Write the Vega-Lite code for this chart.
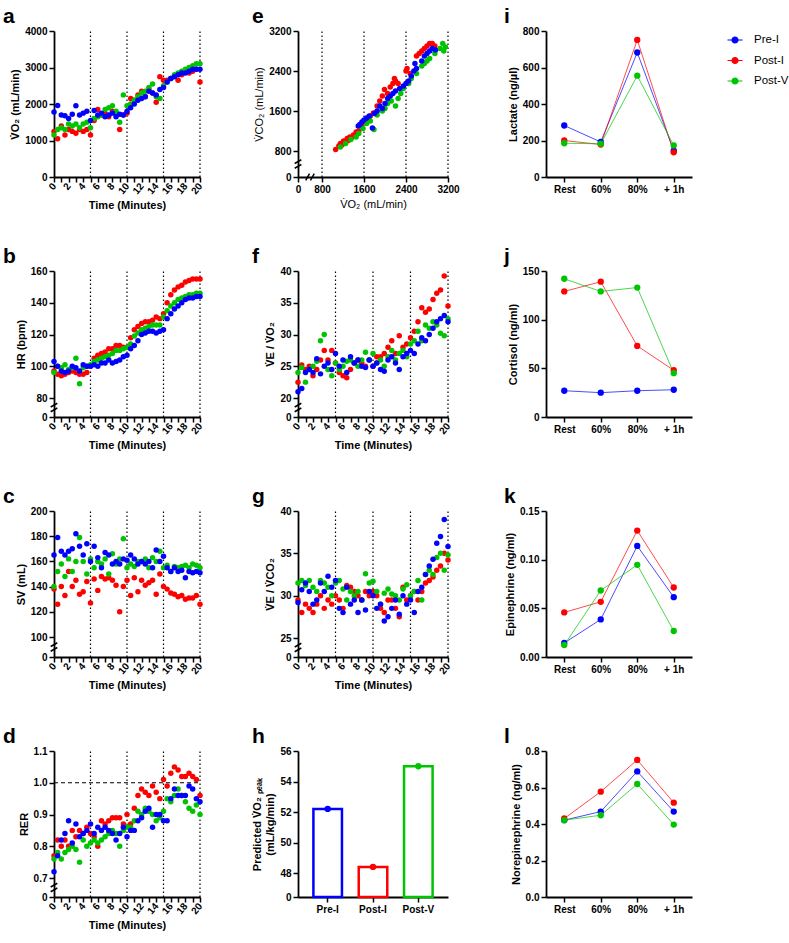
{
"$schema":"https://vega.github.io/schema/vega-lite/v6.json",
"background":"white",
"padding":{"left":3,"top":6,"right":0,"bottom":0},
"datasets":{
"a":[{"t":0,"Pre-I":1780,"Post-I":1250,"Post-V":1150},{"t":0.5,"Pre-I":1960,"Post-I":1050,"Post-V":1300},{"t":1,"Pre-I":1700,"Post-I":1400,"Post-V":1350},{"t":1.5,"Pre-I":1680,"Post-I":1150,"Post-V":1300},{"t":2,"Pre-I":1600,"Post-I":1300,"Post-V":1450},{"t":2.5,"Pre-I":1720,"Post-I":1250,"Post-V":1400},{"t":3,"Pre-I":1950,"Post-I":1200,"Post-V":1450},{"t":3.5,"Pre-I":1700,"Post-I":1300,"Post-V":1350},{"t":4,"Pre-I":1750,"Post-I":1250,"Post-V":1450},{"t":4.5,"Pre-I":1800,"Post-I":1300,"Post-V":1500},{"t":5,"Pre-I":1550,"Post-I":1150,"Post-V":1350},{"t":5.5,"Pre-I":1820,"Post-I":1550,"Post-V":1600},{"t":6,"Pre-I":1700,"Post-I":1850,"Post-V":1650},{"t":6.5,"Pre-I":1750,"Post-I":1700,"Post-V":1700},{"t":7,"Pre-I":1650,"Post-I":1750,"Post-V":1850},{"t":7.5,"Pre-I":1700,"Post-I":1650,"Post-V":1900},{"t":8,"Pre-I":1750,"Post-I":1800,"Post-V":1950},{"t":8.5,"Pre-I":1650,"Post-I":1750,"Post-V":1800},{"t":9,"Pre-I":1720,"Post-I":1300,"Post-V":1500},{"t":9.5,"Pre-I":1700,"Post-I":1700,"Post-V":2250},{"t":10,"Pre-I":1800,"Post-I":1750,"Post-V":1950},{"t":10.5,"Pre-I":1900,"Post-I":2150,"Post-V":2000},{"t":11,"Pre-I":2000,"Post-I":2100,"Post-V":2100},{"t":11.5,"Pre-I":2100,"Post-I":2250,"Post-V":2200},{"t":12,"Pre-I":2150,"Post-I":2350,"Post-V":2300},{"t":12.5,"Pre-I":2200,"Post-I":2200,"Post-V":2350},{"t":13,"Pre-I":2350,"Post-I":2400,"Post-V":2450},{"t":13.5,"Pre-I":2300,"Post-I":2300,"Post-V":2550},{"t":14,"Pre-I":2250,"Post-I":2050,"Post-V":2200},{"t":14.5,"Pre-I":2400,"Post-I":2750,"Post-V":2150},{"t":15,"Pre-I":2450,"Post-I":2650,"Post-V":2500},{"t":15.5,"Pre-I":2600,"Post-I":2650,"Post-V":2600},{"t":16,"Pre-I":2700,"Post-I":2700,"Post-V":2700},{"t":16.5,"Pre-I":2750,"Post-I":2750,"Post-V":2800},{"t":17,"Pre-I":2800,"Post-I":2650,"Post-V":2850},{"t":17.5,"Pre-I":2850,"Post-I":2800,"Post-V":2900},{"t":18,"Pre-I":2850,"Post-I":2900,"Post-V":2950},{"t":18.5,"Pre-I":2900,"Post-I":2850,"Post-V":3000},{"t":19,"Pre-I":2950,"Post-I":2900,"Post-V":3050},{"t":19.5,"Pre-I":2950,"Post-I":2950,"Post-V":3100},{"t":20,"Pre-I":2950,"Post-I":2600,"Post-V":3100}],
"b":[{"t":0,"Pre-I":103,"Post-I":97,"Post-V":96},{"t":0.5,"Pre-I":100,"Post-I":95,"Post-V":100},{"t":1,"Pre-I":97,"Post-I":94,"Post-V":99},{"t":1.5,"Pre-I":96,"Post-I":95,"Post-V":101},{"t":2,"Pre-I":97,"Post-I":96,"Post-V":98},{"t":2.5,"Pre-I":100,"Post-I":97,"Post-V":99},{"t":3,"Pre-I":99,"Post-I":96,"Post-V":105},{"t":3.5,"Pre-I":97,"Post-I":95,"Post-V":89},{"t":4,"Pre-I":101,"Post-I":95,"Post-V":99},{"t":4.5,"Pre-I":100,"Post-I":96,"Post-V":100},{"t":5,"Pre-I":100,"Post-I":100,"Post-V":101},{"t":5.5,"Pre-I":101,"Post-I":105,"Post-V":103},{"t":6,"Pre-I":100,"Post-I":107,"Post-V":104},{"t":6.5,"Pre-I":102,"Post-I":108,"Post-V":105},{"t":7,"Pre-I":102,"Post-I":109,"Post-V":106},{"t":7.5,"Pre-I":104,"Post-I":111,"Post-V":107},{"t":8,"Pre-I":102,"Post-I":111,"Post-V":108},{"t":8.5,"Pre-I":103,"Post-I":113,"Post-V":110},{"t":9,"Pre-I":104,"Post-I":113,"Post-V":110},{"t":9.5,"Pre-I":106,"Post-I":112,"Post-V":111},{"t":10,"Pre-I":107,"Post-I":112,"Post-V":112},{"t":10.5,"Pre-I":111,"Post-I":118,"Post-V":114},{"t":11,"Pre-I":113,"Post-I":123,"Post-V":119},{"t":11.5,"Pre-I":116,"Post-I":125,"Post-V":121},{"t":12,"Pre-I":120,"Post-I":127,"Post-V":123},{"t":12.5,"Pre-I":121,"Post-I":128,"Post-V":124},{"t":13,"Pre-I":122,"Post-I":128,"Post-V":125},{"t":13.5,"Pre-I":122,"Post-I":129,"Post-V":126},{"t":14,"Pre-I":121,"Post-I":131,"Post-V":126},{"t":14.5,"Pre-I":122,"Post-I":130,"Post-V":126},{"t":15,"Pre-I":123,"Post-I":133,"Post-V":131},{"t":15.5,"Pre-I":130,"Post-I":140,"Post-V":135},{"t":16,"Pre-I":133,"Post-I":145,"Post-V":138},{"t":16.5,"Pre-I":136,"Post-I":148,"Post-V":140},{"t":17,"Pre-I":138,"Post-I":150,"Post-V":142},{"t":17.5,"Pre-I":140,"Post-I":151,"Post-V":143},{"t":18,"Pre-I":142,"Post-I":153,"Post-V":144},{"t":18.5,"Pre-I":143,"Post-I":154,"Post-V":145},{"t":19,"Pre-I":143,"Post-I":155,"Post-V":145},{"t":19.5,"Pre-I":144,"Post-I":155,"Post-V":146},{"t":20,"Pre-I":144,"Post-I":155,"Post-V":146}],
"c":[{"t":0,"Pre-I":165,"Post-I":138,"Post-V":140},{"t":0.5,"Pre-I":179,"Post-I":126,"Post-V":152},{"t":1,"Pre-I":168,"Post-I":140,"Post-V":158},{"t":1.5,"Pre-I":165,"Post-I":133,"Post-V":148},{"t":2,"Pre-I":168,"Post-I":152,"Post-V":162},{"t":2.5,"Pre-I":170,"Post-I":140,"Post-V":152},{"t":3,"Pre-I":182,"Post-I":145,"Post-V":160},{"t":3.5,"Pre-I":172,"Post-I":134,"Post-V":179},{"t":4,"Pre-I":165,"Post-I":136,"Post-V":160},{"t":4.5,"Pre-I":174,"Post-I":144,"Post-V":150},{"t":5,"Pre-I":160,"Post-I":127,"Post-V":162},{"t":5.5,"Pre-I":172,"Post-I":146,"Post-V":155},{"t":6,"Pre-I":163,"Post-I":137,"Post-V":160},{"t":6.5,"Pre-I":155,"Post-I":148,"Post-V":158},{"t":7,"Pre-I":167,"Post-I":146,"Post-V":162},{"t":7.5,"Pre-I":165,"Post-I":147,"Post-V":150},{"t":8,"Pre-I":158,"Post-I":145,"Post-V":166},{"t":8.5,"Pre-I":160,"Post-I":141,"Post-V":158},{"t":9,"Pre-I":158,"Post-I":120,"Post-V":162},{"t":9.5,"Pre-I":162,"Post-I":140,"Post-V":178},{"t":10,"Pre-I":161,"Post-I":145,"Post-V":155},{"t":10.5,"Pre-I":165,"Post-I":133,"Post-V":158},{"t":11,"Pre-I":162,"Post-I":147,"Post-V":156},{"t":11.5,"Pre-I":158,"Post-I":136,"Post-V":160},{"t":12,"Pre-I":160,"Post-I":145,"Post-V":160},{"t":12.5,"Pre-I":158,"Post-I":141,"Post-V":162},{"t":13,"Pre-I":160,"Post-I":143,"Post-V":155},{"t":13.5,"Pre-I":155,"Post-I":145,"Post-V":163},{"t":14,"Pre-I":169,"Post-I":134,"Post-V":160},{"t":14.5,"Pre-I":160,"Post-I":150,"Post-V":168},{"t":15,"Pre-I":164,"Post-I":140,"Post-V":155},{"t":15.5,"Pre-I":155,"Post-I":138,"Post-V":157},{"t":16,"Pre-I":152,"Post-I":135,"Post-V":152},{"t":16.5,"Pre-I":155,"Post-I":134,"Post-V":156},{"t":17,"Pre-I":152,"Post-I":132,"Post-V":155},{"t":17.5,"Pre-I":153,"Post-I":133,"Post-V":156},{"t":18,"Pre-I":147,"Post-I":130,"Post-V":157},{"t":18.5,"Pre-I":152,"Post-I":131,"Post-V":155},{"t":19,"Pre-I":151,"Post-I":131,"Post-V":158},{"t":19.5,"Pre-I":152,"Post-I":133,"Post-V":157},{"t":20,"Pre-I":151,"Post-I":126,"Post-V":155}],
"d":[{"t":0,"Pre-I":0.72,"Post-I":0.77,"Post-V":0.76},{"t":0.5,"Pre-I":0.77,"Post-I":0.82,"Post-V":0.78},{"t":1,"Pre-I":0.82,"Post-I":0.80,"Post-V":0.76},{"t":1.5,"Pre-I":0.84,"Post-I":0.82,"Post-V":0.78},{"t":2,"Pre-I":0.88,"Post-I":0.80,"Post-V":0.79},{"t":2.5,"Pre-I":0.81,"Post-I":0.85,"Post-V":0.80},{"t":3,"Pre-I":0.87,"Post-I":0.83,"Post-V":0.79},{"t":3.5,"Pre-I":0.83,"Post-I":0.85,"Post-V":0.75},{"t":4,"Pre-I":0.84,"Post-I":0.84,"Post-V":0.82},{"t":4.5,"Pre-I":0.85,"Post-I":0.86,"Post-V":0.80},{"t":5,"Pre-I":0.87,"Post-I":0.84,"Post-V":0.81},{"t":5.5,"Pre-I":0.84,"Post-I":0.83,"Post-V":0.82},{"t":6,"Pre-I":0.86,"Post-I":0.80,"Post-V":0.81},{"t":6.5,"Pre-I":0.85,"Post-I":0.88,"Post-V":0.82},{"t":7,"Pre-I":0.86,"Post-I":0.87,"Post-V":0.83},{"t":7.5,"Pre-I":0.85,"Post-I":0.88,"Post-V":0.84},{"t":8,"Pre-I":0.84,"Post-I":0.89,"Post-V":0.85},{"t":8.5,"Pre-I":0.82,"Post-I":0.89,"Post-V":0.84},{"t":9,"Pre-I":0.84,"Post-I":0.89,"Post-V":0.80},{"t":9.5,"Pre-I":0.86,"Post-I":0.87,"Post-V":0.85},{"t":10,"Pre-I":0.83,"Post-I":0.90,"Post-V":0.86},{"t":10.5,"Pre-I":0.85,"Post-I":0.87,"Post-V":0.86},{"t":11,"Pre-I":0.85,"Post-I":0.92,"Post-V":0.88},{"t":11.5,"Pre-I":0.88,"Post-I":0.96,"Post-V":0.91},{"t":12,"Pre-I":0.89,"Post-I":0.98,"Post-V":0.90},{"t":12.5,"Pre-I":0.91,"Post-I":0.97,"Post-V":0.92},{"t":13,"Pre-I":0.92,"Post-I":0.96,"Post-V":0.91},{"t":13.5,"Pre-I":0.86,"Post-I":0.99,"Post-V":0.90},{"t":14,"Pre-I":0.90,"Post-I":0.97,"Post-V":0.88},{"t":14.5,"Pre-I":0.90,"Post-I":0.95,"Post-V":0.89},{"t":15,"Pre-I":0.88,"Post-I":1.01,"Post-V":0.91},{"t":15.5,"Pre-I":0.88,"Post-I":0.99,"Post-V":0.95},{"t":16,"Pre-I":0.95,"Post-I":1.03,"Post-V":0.94},{"t":16.5,"Pre-I":0.98,"Post-I":1.05,"Post-V":0.96},{"t":17,"Pre-I":0.96,"Post-I":1.04,"Post-V":0.98},{"t":17.5,"Pre-I":0.96,"Post-I":1.02,"Post-V":0.96},{"t":18,"Pre-I":0.96,"Post-I":1.02,"Post-V":0.94},{"t":18.5,"Pre-I":0.99,"Post-I":1.03,"Post-V":0.92},{"t":19,"Pre-I":0.98,"Post-I":1.02,"Post-V":0.91},{"t":19.5,"Pre-I":0.95,"Post-I":1.01,"Post-V":0.93},{"t":20,"Pre-I":0.94,"Post-I":0.96,"Post-V":0.90}],
"f":[{"t":0,"Pre-I":21.0,"Post-I":22.5,"Post-V":24.0},{"t":0.5,"Pre-I":21.5,"Post-I":25.2,"Post-V":24.8},{"t":1,"Pre-I":24.0,"Post-I":24.5,"Post-V":22.5},{"t":1.5,"Pre-I":24.5,"Post-I":25.0,"Post-V":24.5},{"t":2,"Pre-I":24.0,"Post-I":23.5,"Post-V":25.0},{"t":2.5,"Pre-I":26.2,"Post-I":24.5,"Post-V":25.8},{"t":3,"Pre-I":23.8,"Post-I":26.0,"Post-V":29.0},{"t":3.5,"Pre-I":25.0,"Post-I":27.5,"Post-V":30.0},{"t":4,"Pre-I":25.5,"Post-I":26.0,"Post-V":24.5},{"t":4.5,"Pre-I":24.5,"Post-I":27.5,"Post-V":23.5},{"t":5,"Pre-I":27.0,"Post-I":25.5,"Post-V":25.5},{"t":5.5,"Pre-I":25.0,"Post-I":24.0,"Post-V":24.5},{"t":6,"Pre-I":26.0,"Post-I":23.5,"Post-V":25.0},{"t":6.5,"Pre-I":24.0,"Post-I":23.2,"Post-V":25.8},{"t":7,"Pre-I":26.5,"Post-I":24.5,"Post-V":26.0},{"t":7.5,"Pre-I":25.5,"Post-I":25.5,"Post-V":25.5},{"t":8,"Pre-I":26.0,"Post-I":26.0,"Post-V":25.0},{"t":8.5,"Pre-I":25.0,"Post-I":25.5,"Post-V":26.0},{"t":9,"Pre-I":24.8,"Post-I":25.0,"Post-V":27.2},{"t":9.5,"Pre-I":26.0,"Post-I":26.0,"Post-V":26.0},{"t":10,"Pre-I":25.0,"Post-I":25.0,"Post-V":27.0},{"t":10.5,"Pre-I":25.5,"Post-I":26.5,"Post-V":25.5},{"t":11,"Pre-I":24.5,"Post-I":26.5,"Post-V":26.0},{"t":11.5,"Pre-I":24.2,"Post-I":27.0,"Post-V":25.0},{"t":12,"Pre-I":26.0,"Post-I":28.0,"Post-V":26.5},{"t":12.5,"Pre-I":26.5,"Post-I":29.0,"Post-V":27.5},{"t":13,"Pre-I":25.5,"Post-I":27.0,"Post-V":26.0},{"t":13.5,"Pre-I":24.5,"Post-I":29.8,"Post-V":27.0},{"t":14,"Pre-I":26.5,"Post-I":28.0,"Post-V":27.5},{"t":14.5,"Pre-I":27.0,"Post-I":28.5,"Post-V":26.5},{"t":15,"Pre-I":27.5,"Post-I":29.5,"Post-V":28.5},{"t":15.5,"Pre-I":27.0,"Post-I":30.5,"Post-V":29.0},{"t":16,"Pre-I":28.5,"Post-I":32.0,"Post-V":30.5},{"t":16.5,"Pre-I":29.5,"Post-I":34.2,"Post-V":29.0},{"t":17,"Pre-I":29.0,"Post-I":33.5,"Post-V":31.5},{"t":17.5,"Pre-I":30.0,"Post-I":34.0,"Post-V":31.0},{"t":18,"Pre-I":31.0,"Post-I":35.5,"Post-V":32.0},{"t":18.5,"Pre-I":32.0,"Post-I":36.5,"Post-V":31.5},{"t":19,"Pre-I":32.5,"Post-I":37.0,"Post-V":30.2},{"t":19.5,"Pre-I":33.0,"Post-I":39.2,"Post-V":29.8},{"t":20,"Pre-I":32.0,"Post-I":34.5,"Post-V":32.5}],
"g":[{"t":0,"Pre-I":29.2,"Post-I":29.5,"Post-V":31.5},{"t":0.5,"Pre-I":30.7,"Post-I":28.0,"Post-V":31.8},{"t":1,"Pre-I":31.5,"Post-I":29.0,"Post-V":31.2},{"t":1.5,"Pre-I":30.5,"Post-I":28.5,"Post-V":31.8},{"t":2,"Pre-I":29.0,"Post-I":28.0,"Post-V":31.0},{"t":2.5,"Pre-I":29.5,"Post-I":29.0,"Post-V":30.5},{"t":3,"Pre-I":31.5,"Post-I":30.0,"Post-V":31.8},{"t":3.5,"Pre-I":30.5,"Post-I":28.5,"Post-V":31.5},{"t":4,"Pre-I":32.3,"Post-I":29.5,"Post-V":31.0},{"t":4.5,"Pre-I":31.0,"Post-I":29.0,"Post-V":30.0},{"t":5,"Pre-I":31.8,"Post-I":30.0,"Post-V":31.5},{"t":5.5,"Pre-I":28.5,"Post-I":29.5,"Post-V":31.8},{"t":6,"Pre-I":28.0,"Post-I":28.5,"Post-V":30.8},{"t":6.5,"Pre-I":31.0,"Post-I":31.2,"Post-V":29.5},{"t":7,"Pre-I":29.0,"Post-I":31.0,"Post-V":30.5},{"t":7.5,"Pre-I":29.5,"Post-I":30.5,"Post-V":30.0},{"t":8,"Pre-I":28.0,"Post-I":30.0,"Post-V":30.5},{"t":8.5,"Pre-I":29.5,"Post-I":29.5,"Post-V":29.5},{"t":9,"Pre-I":28.3,"Post-I":30.5,"Post-V":32.6},{"t":9.5,"Pre-I":30.5,"Post-I":30.0,"Post-V":31.5},{"t":10,"Pre-I":30.0,"Post-I":30.5,"Post-V":31.7},{"t":10.5,"Pre-I":28.5,"Post-I":30.0,"Post-V":30.5},{"t":11,"Pre-I":29.0,"Post-I":28.5,"Post-V":29.0},{"t":11.5,"Pre-I":27.0,"Post-I":28.0,"Post-V":30.3},{"t":12,"Pre-I":27.5,"Post-I":29.5,"Post-V":30.8},{"t":12.5,"Pre-I":28.5,"Post-I":29.5,"Post-V":30.2},{"t":13,"Pre-I":29.5,"Post-I":28.5,"Post-V":30.0},{"t":13.5,"Pre-I":27.8,"Post-I":27.5,"Post-V":29.5},{"t":14,"Pre-I":30.0,"Post-I":31.0,"Post-V":30.8},{"t":14.5,"Pre-I":29.0,"Post-I":29.5,"Post-V":31.3},{"t":15,"Pre-I":29.5,"Post-I":30.0,"Post-V":30.0},{"t":15.5,"Pre-I":28.0,"Post-I":30.5,"Post-V":30.5},{"t":16,"Pre-I":30.5,"Post-I":29.5,"Post-V":31.8},{"t":16.5,"Pre-I":31.0,"Post-I":30.5,"Post-V":29.5},{"t":17,"Pre-I":32.5,"Post-I":31.5,"Post-V":32.5},{"t":17.5,"Pre-I":33.5,"Post-I":31.8,"Post-V":33.0},{"t":18,"Pre-I":34.3,"Post-I":32.2,"Post-V":32.5},{"t":18.5,"Pre-I":36.2,"Post-I":33.0,"Post-V":34.5},{"t":19,"Pre-I":37.0,"Post-I":33.5,"Post-V":35.0},{"t":19.5,"Pre-I":39.0,"Post-I":35.0,"Post-V":33.0},{"t":20,"Pre-I":35.8,"Post-I":34.2,"Post-V":34.8}],
"e":[{"g":"Post-I","x":1060,"y":830},{"g":"Post-I","x":1120,"y":900},{"g":"Post-I","x":1150,"y":950},{"g":"Post-I","x":1180,"y":920},{"g":"Post-I","x":1210,"y":1000},{"g":"Post-I","x":1250,"y":980},{"g":"Post-I","x":1280,"y":1050},{"g":"Post-I","x":1300,"y":1010},{"g":"Post-I","x":1330,"y":1080},{"g":"Post-I","x":1360,"y":1060},{"g":"Post-I","x":1400,"y":1120},{"g":"Post-I","x":1420,"y":1100},{"g":"Post-I","x":1450,"y":1180},{"g":"Post-I","x":1500,"y":1200},{"g":"Post-I","x":1560,"y":1300},{"g":"Post-I","x":1620,"y":1380},{"g":"Post-I","x":1680,"y":1450},{"g":"Post-I","x":1720,"y":1500},{"g":"Post-I","x":1780,"y":1560},{"g":"Post-I","x":1850,"y":1700},{"g":"Post-I","x":1900,"y":1800},{"g":"Post-I","x":1950,"y":1900},{"g":"Post-I","x":1990,"y":2030},{"g":"Post-I","x":2050,"y":1950},{"g":"Post-I","x":2100,"y":2080},{"g":"Post-I","x":2150,"y":2150},{"g":"Post-I","x":2180,"y":2250},{"g":"Post-I","x":2200,"y":2200},{"g":"Post-I","x":2250,"y":2150},{"g":"Post-I","x":2400,"y":2400},{"g":"Post-I","x":2420,"y":2450},{"g":"Post-I","x":2480,"y":2350},{"g":"Post-I","x":2600,"y":2700},{"g":"Post-I","x":2650,"y":2750},{"g":"Post-I","x":2700,"y":2800},{"g":"Post-I","x":2750,"y":2850},{"g":"Post-I","x":2800,"y":2900},{"g":"Post-I","x":2850,"y":2950},{"g":"Post-I","x":2900,"y":2950},{"g":"Post-I","x":2950,"y":2900},
{"g":"Post-V","x":1150,"y":880},{"g":"Post-V","x":1250,"y":950},{"g":"Post-V","x":1350,"y":1030},{"g":"Post-V","x":1450,"y":1080},{"g":"Post-V","x":1500,"y":1150},{"g":"Post-V","x":1580,"y":1250},{"g":"Post-V","x":1650,"y":1350},{"g":"Post-V","x":1720,"y":1400},{"g":"Post-V","x":1790,"y":1230},{"g":"Post-V","x":1850,"y":1520},{"g":"Post-V","x":1950,"y":1600},{"g":"Post-V","x":2000,"y":1650},{"g":"Post-V","x":2050,"y":1750},{"g":"Post-V","x":2120,"y":1800},{"g":"Post-V","x":2200,"y":1700},{"g":"Post-V","x":2250,"y":1850},{"g":"Post-V","x":2300,"y":1950},{"g":"Post-V","x":2350,"y":2050},{"g":"Post-V","x":2450,"y":2150},{"g":"Post-V","x":2500,"y":2250},{"g":"Post-V","x":2600,"y":2350},{"g":"Post-V","x":2700,"y":2500},{"g":"Post-V","x":2750,"y":2550},{"g":"Post-V","x":2850,"y":2650},{"g":"Post-V","x":2950,"y":2750},{"g":"Post-V","x":3050,"y":2850},{"g":"Post-V","x":3100,"y":2950},{"g":"Post-V","x":3150,"y":2880},{"g":"Post-V","x":3120,"y":2800},{"g":"Post-V","x":2800,"y":2600},
{"g":"Pre-I","x":1490,"y":1300},{"g":"Pre-I","x":1520,"y":1330},{"g":"Pre-I","x":1560,"y":1380},{"g":"Pre-I","x":1600,"y":1420},{"g":"Pre-I","x":1650,"y":1460},{"g":"Pre-I","x":1700,"y":1500},{"g":"Pre-I","x":1760,"y":1260},{"g":"Pre-I","x":1800,"y":1550},{"g":"Pre-I","x":1850,"y":1600},{"g":"Pre-I","x":1900,"y":1700},{"g":"Pre-I","x":1950,"y":1650},{"g":"Pre-I","x":2000,"y":1750},{"g":"Pre-I","x":2050,"y":1850},{"g":"Pre-I","x":2100,"y":1900},{"g":"Pre-I","x":2150,"y":1950},{"g":"Pre-I","x":2200,"y":2000},{"g":"Pre-I","x":2280,"y":2050},{"g":"Pre-I","x":2350,"y":2100},{"g":"Pre-I","x":2400,"y":2150},{"g":"Pre-I","x":2450,"y":2200},{"g":"Pre-I","x":2500,"y":2300},{"g":"Pre-I","x":2550,"y":2400},{"g":"Pre-I","x":2570,"y":2550},{"g":"Pre-I","x":2600,"y":2450},{"g":"Pre-I","x":2700,"y":2600},{"g":"Pre-I","x":2750,"y":2700},{"g":"Pre-I","x":2800,"y":2750},{"g":"Pre-I","x":2850,"y":2800},{"g":"Pre-I","x":2900,"y":2850},{"g":"Pre-I","x":2960,"y":2820}],
"i":[{"c":"Rest","i":0,"Pre-I":282,"Post-I":200,"Post-V":185},{"c":"60%","i":1,"Pre-I":192,"Post-I":178,"Post-V":182},{"c":"80%","i":2,"Pre-I":682,"Post-I":751,"Post-V":555},{"c":"+ 1h","i":3,"Pre-I":144,"Post-I":135,"Post-V":173}],
"j":[{"c":"Rest","i":0,"Pre-I":27,"Post-I":129,"Post-V":142},{"c":"60%","i":1,"Pre-I":25,"Post-I":139,"Post-V":129},{"c":"80%","i":2,"Pre-I":27,"Post-I":73,"Post-V":133},{"c":"+ 1h","i":3,"Pre-I":28,"Post-I":48,"Post-V":45}],
"k":[{"c":"Rest","i":0,"Pre-I":0.0144,"Post-I":0.0458,"Post-V":0.0123},{"c":"60%","i":1,"Pre-I":0.0386,"Post-I":0.0567,"Post-V":0.0683},{"c":"80%","i":2,"Pre-I":0.1141,"Post-I":0.1299,"Post-V":0.0947},{"c":"+ 1h","i":3,"Pre-I":0.0615,"Post-I":0.0714,"Post-V":0.0267}],
"l":[{"c":"Rest","i":0,"Pre-I":0.421,"Post-I":0.430,"Post-V":0.421},{"c":"60%","i":1,"Pre-I":0.468,"Post-I":0.577,"Post-V":0.448},{"c":"80%","i":2,"Pre-I":0.688,"Post-I":0.751,"Post-V":0.619},{"c":"+ 1h","i":3,"Pre-I":0.468,"Post-I":0.517,"Post-V":0.397}]
},
"bounds":"flush",
"columns":3,
"spacing":{"row":94,"column":98},
"concat":[
{"width":146,"height":146,"title":{"text":"a","dx":-51},
"encoding":{"x":{"field":"t","type":"quantitative","title":"Time (Minutes)","scale":{"domain":[0,20],"nice":false,"zero":false},"axis":{"values":[0,1,2,3,4,5,6,7,8,9,10,11,12,13,14,15,16,17,18,19,20],"labelExpr":"datum.value % 2 === 0 ? datum.label : ''","labelAngle":-50,"labelFlush":false,"labelOverlap":false}},
"y":{"field":"v","type":"quantitative","title":"V\u0307O\u2082 (mL/min)","scale":{"domain":[0,4000],"nice":false},"axis":{"values":[0,1000,2000,3000,4000],"format":"d","labelOverlap":false}}},
"layer":[
{"data":{"values":[{"t":5,"v":0,"v2":4000},{"t":10,"v":0,"v2":4000},{"t":15,"v":0,"v2":4000},{"t":20,"v":0,"v2":4000}]},"mark":{"type":"rule","color":"black","strokeWidth":1.2,"strokeDash":[1.5,2.5]},"encoding":{"y2":{"field":"v2"}}},
{"data":{"name":"a"},"transform":[{"fold":["Pre-I","Post-I","Post-V"],"as":["g","v"]}],"mark":{"type":"point","filled":true,"size":30,"opacity":1},
"encoding":{"color":{"field":"g","type":"nominal","title":null,"scale":{"domain":["Pre-I","Post-I","Post-V"],"range":["#0000FF","#FF0000","#00C400"]}},"order":{"field":"g"}}}
]},
{"width":150,"height":146,"title":{"text":"e","dx":-46},
"encoding":{"x":{"field":"x","type":"quantitative","title":"V\u0307O\u2082 (mL/min)","scale":{"domain":[0,800,3200],"range":[0,24,150],"nice":false,"zero":false},"axis":{"values":[0,800,1600,2400,3200],"format":"d","labelAngle":0,"labelFlush":false,"labelOverlap":false,"titleFontWeight":"normal"}},
"y":{"field":"y","type":"quantitative","title":"V\u0307CO\u2082 (mL/min)","scale":{"domain":[0,800,3200],"range":[146,120,0],"nice":false,"zero":false},"axis":{"values":[0,800,1600,2400,3200],"format":"d","labelOverlap":false,"titleFontWeight":"normal"}}},
"layer":[
{"data":{"values":[{"x":800,"y":0,"y2":3200},{"x":1600,"y":0,"y2":3200},{"x":2400,"y":0,"y2":3200},{"x":3200,"y":0,"y2":3200}]},"mark":{"type":"rule","color":"black","strokeWidth":1.2,"strokeDash":[1.5,2.5]},"encoding":{"y2":{"field":"y2"}}},
{"data":{"values":[{"x":0,"y":400}]},"mark":{"type":"point","shape":"M-0.7,-0.1L0.7,-0.9M-0.7,0.9L0.7,0.1","filled":false,"color":"black","strokeWidth":1.5,"size":90,"opacity":1}},
{"data":{"values":[{"x":400,"y":0}]},"mark":{"type":"point","shape":"M-0.9,0.7L-0.1,-0.7M0.1,0.7L0.9,-0.7","filled":false,"color":"black","strokeWidth":1.5,"size":90,"opacity":1}},
{"data":{"name":"e"},"mark":{"type":"point","filled":true,"size":30,"opacity":1},
"encoding":{"color":{"field":"g","type":"nominal","title":null,"scale":{"domain":["Pre-I","Post-I","Post-V"],"range":["#0000FF","#FF0000","#00C400"]}}}}
]},
{"width":146,"height":146,"title":{"text":"i","dx":-42},
"data":{"name":"i"},"transform":[{"fold":["Pre-I","Post-I","Post-V"],"as":["g","v"]}],
"encoding":{"x":{"field":"c","type":"ordinal","title":null,"scale":{"type":"point","domain":["Rest","60%","80%","+ 1h"],"padding":0.5},"axis":{"labelAngle":0}},
"y":{"field":"v","type":"quantitative","title":"Lactate (ng/\u00b5l)","scale":{"domain":[0,800],"nice":false},"axis":{"values":[0,200,400,600,800]}},
"color":{"field":"g","type":"nominal","title":null,"scale":{"domain":["Pre-I","Post-I","Post-V"],"range":["#0000FF","#FF0000","#00C400"]},"legend":{"symbolType":"M-1.5,0L1.5,0M0.6,0A0.6,0.6,0,1,1,-0.6,0A0.6,0.6,0,1,1,0.6,0Z","labelOffset":13,"rowPadding":8.5,"labelFontSize":11.5,"encode":{"symbols":{"update":{"stroke":{"scale":"color","field":"value"},"strokeWidth":{"value":1.2}}}}}}},
"layer":[
{"mark":{"type":"line","strokeWidth":1,"opacity":0.7},"encoding":{"order":{"field":"i"}}},
{"mark":{"type":"point","filled":true,"size":40,"opacity":1}}
]},
{"width":146,"height":146,"title":{"text":"b","dx":-51},
"encoding":{"x":{"field":"t","type":"quantitative","title":"Time (Minutes)","scale":{"domain":[0,20],"nice":false,"zero":false},"axis":{"values":[0,1,2,3,4,5,6,7,8,9,10,11,12,13,14,15,16,17,18,19,20],"labelExpr":"datum.value % 2 === 0 ? datum.label : ''","labelAngle":-50,"labelFlush":false,"labelOverlap":false}},
"y":{"field":"v","type":"quantitative","title":"HR (bpm)","scale":{"domain":[0,80,160],"range":[146,127,0],"nice":false,"zero":false},"axis":{"values":[0,80,100,120,140,160],"labelOverlap":false}}},
"layer":[
{"data":{"values":[{"t":5,"v":0,"v2":160},{"t":10,"v":0,"v2":160},{"t":15,"v":0,"v2":160},{"t":20,"v":0,"v2":160}]},"mark":{"type":"rule","color":"black","strokeWidth":1.2,"strokeDash":[1.5,2.5]},"encoding":{"y2":{"field":"v2"}}},
{"data":{"values":[{"t":0,"v":40}]},"mark":{"type":"point","shape":"M-0.7,-0.1L0.7,-0.9M-0.7,0.9L0.7,0.1","filled":false,"color":"black","strokeWidth":1.5,"size":90,"opacity":1}},
{"data":{"name":"b"},"transform":[{"fold":["Pre-I","Post-I","Post-V"],"as":["g","v"]}],"mark":{"type":"point","filled":true,"size":30,"opacity":1},
"encoding":{"color":{"field":"g","type":"nominal","title":null,"scale":{"domain":["Pre-I","Post-I","Post-V"],"range":["#0000FF","#FF0000","#00C400"]}},"order":{"field":"g"}}}
]},
{"width":150,"height":146,"title":{"text":"f","dx":-46},
"encoding":{"x":{"field":"t","type":"quantitative","title":"Time (Minutes)","scale":{"domain":[0,20],"nice":false,"zero":false},"axis":{"values":[0,1,2,3,4,5,6,7,8,9,10,11,12,13,14,15,16,17,18,19,20],"labelExpr":"datum.value % 2 === 0 ? datum.label : ''","labelAngle":-50,"labelFlush":false,"labelOverlap":false}},
"y":{"field":"v","type":"quantitative","title":"V\u0307E / V\u0307O\u2082","scale":{"domain":[0,20,40],"range":[146,127,0],"nice":false,"zero":false},"axis":{"values":[0,20,25,30,35,40],"labelOverlap":false}}},
"layer":[
{"data":{"values":[{"t":5,"v":0,"v2":40},{"t":10,"v":0,"v2":40},{"t":15,"v":0,"v2":40},{"t":20,"v":0,"v2":40}]},"mark":{"type":"rule","color":"black","strokeWidth":1.2,"strokeDash":[1.5,2.5]},"encoding":{"y2":{"field":"v2"}}},
{"data":{"values":[{"t":0,"v":10}]},"mark":{"type":"point","shape":"M-0.7,-0.1L0.7,-0.9M-0.7,0.9L0.7,0.1","filled":false,"color":"black","strokeWidth":1.5,"size":90,"opacity":1}},
{"data":{"name":"f"},"transform":[{"fold":["Pre-I","Post-I","Post-V"],"as":["g","v"]}],"mark":{"type":"point","filled":true,"size":30,"opacity":1},
"encoding":{"color":{"field":"g","type":"nominal","title":null,"scale":{"domain":["Pre-I","Post-I","Post-V"],"range":["#0000FF","#FF0000","#00C400"]}},"order":{"field":"g"}}}
]},
{"width":146,"height":146,"title":{"text":"j","dx":-42},
"data":{"name":"j"},"transform":[{"fold":["Pre-I","Post-I","Post-V"],"as":["g","v"]}],
"encoding":{"x":{"field":"c","type":"ordinal","title":null,"scale":{"type":"point","domain":["Rest","60%","80%","+ 1h"],"padding":0.5},"axis":{"labelAngle":0}},
"y":{"field":"v","type":"quantitative","title":"Cortisol (ng/ml)","scale":{"domain":[0,150],"nice":false},"axis":{"values":[0,50,100,150]}},
"color":{"field":"g","type":"nominal","title":null,"scale":{"domain":["Pre-I","Post-I","Post-V"],"range":["#0000FF","#FF0000","#00C400"]}}},
"layer":[
{"mark":{"type":"line","strokeWidth":1,"opacity":0.7},"encoding":{"order":{"field":"i"}}},
{"mark":{"type":"point","filled":true,"size":40,"opacity":1}}
]},
{"width":146,"height":146,"title":{"text":"c","dx":-51},
"encoding":{"x":{"field":"t","type":"quantitative","title":"Time (Minutes)","scale":{"domain":[0,20],"nice":false,"zero":false},"axis":{"values":[0,1,2,3,4,5,6,7,8,9,10,11,12,13,14,15,16,17,18,19,20],"labelExpr":"datum.value % 2 === 0 ? datum.label : ''","labelAngle":-50,"labelFlush":false,"labelOverlap":false}},
"y":{"field":"v","type":"quantitative","title":"SV (mL)","scale":{"domain":[0,100,200],"range":[146,126,0],"nice":false,"zero":false},"axis":{"values":[0,100,120,140,160,180,200],"labelOverlap":false}}},
"layer":[
{"data":{"values":[{"t":5,"v":0,"v2":200},{"t":10,"v":0,"v2":200},{"t":15,"v":0,"v2":200},{"t":20,"v":0,"v2":200}]},"mark":{"type":"rule","color":"black","strokeWidth":1.2,"strokeDash":[1.5,2.5]},"encoding":{"y2":{"field":"v2"}}},
{"data":{"values":[{"t":0,"v":50}]},"mark":{"type":"point","shape":"M-0.7,-0.1L0.7,-0.9M-0.7,0.9L0.7,0.1","filled":false,"color":"black","strokeWidth":1.5,"size":90,"opacity":1}},
{"data":{"name":"c"},"transform":[{"fold":["Pre-I","Post-I","Post-V"],"as":["g","v"]}],"mark":{"type":"point","filled":true,"size":30,"opacity":1},
"encoding":{"color":{"field":"g","type":"nominal","title":null,"scale":{"domain":["Pre-I","Post-I","Post-V"],"range":["#0000FF","#FF0000","#00C400"]}},"order":{"field":"g"}}}
]},
{"width":150,"height":146,"title":{"text":"g","dx":-46},
"encoding":{"x":{"field":"t","type":"quantitative","title":"Time (Minutes)","scale":{"domain":[0,20],"nice":false,"zero":false},"axis":{"values":[0,1,2,3,4,5,6,7,8,9,10,11,12,13,14,15,16,17,18,19,20],"labelExpr":"datum.value % 2 === 0 ? datum.label : ''","labelAngle":-50,"labelFlush":false,"labelOverlap":false}},
"y":{"field":"v","type":"quantitative","title":"V\u0307E / V\u0307CO\u2082","scale":{"domain":[0,25,40],"range":[146,127,0],"nice":false,"zero":false},"axis":{"values":[0,25,30,35,40],"labelOverlap":false}}},
"layer":[
{"data":{"values":[{"t":5,"v":0,"v2":40},{"t":10,"v":0,"v2":40},{"t":15,"v":0,"v2":40},{"t":20,"v":0,"v2":40}]},"mark":{"type":"rule","color":"black","strokeWidth":1.2,"strokeDash":[1.5,2.5]},"encoding":{"y2":{"field":"v2"}}},
{"data":{"values":[{"t":0,"v":12.5}]},"mark":{"type":"point","shape":"M-0.7,-0.1L0.7,-0.9M-0.7,0.9L0.7,0.1","filled":false,"color":"black","strokeWidth":1.5,"size":90,"opacity":1}},
{"data":{"name":"g"},"transform":[{"fold":["Pre-I","Post-I","Post-V"],"as":["g","v"]}],"mark":{"type":"point","filled":true,"size":30,"opacity":1},
"encoding":{"color":{"field":"g","type":"nominal","title":null,"scale":{"domain":["Pre-I","Post-I","Post-V"],"range":["#0000FF","#FF0000","#00C400"]}},"order":{"field":"g"}}}
]},
{"width":146,"height":146,"title":{"text":"k","dx":-42},
"data":{"name":"k"},"transform":[{"fold":["Pre-I","Post-I","Post-V"],"as":["g","v"]}],
"encoding":{"x":{"field":"c","type":"ordinal","title":null,"scale":{"type":"point","domain":["Rest","60%","80%","+ 1h"],"padding":0.5},"axis":{"labelAngle":0}},
"y":{"field":"v","type":"quantitative","title":"Epinephrine (ng/ml)","scale":{"domain":[0,0.15],"nice":false},"axis":{"values":[0,0.05,0.1,0.15],"format":".2f"}},
"color":{"field":"g","type":"nominal","title":null,"scale":{"domain":["Pre-I","Post-I","Post-V"],"range":["#0000FF","#FF0000","#00C400"]}}},
"layer":[
{"mark":{"type":"line","strokeWidth":1,"opacity":0.7},"encoding":{"order":{"field":"i"}}},
{"mark":{"type":"point","filled":true,"size":40,"opacity":1}}
]},
{"width":146,"height":146,"title":{"text":"d","dx":-51},
"encoding":{"x":{"field":"t","type":"quantitative","title":"Time (Minutes)","scale":{"domain":[0,20],"nice":false,"zero":false},"axis":{"values":[0,1,2,3,4,5,6,7,8,9,10,11,12,13,14,15,16,17,18,19,20],"labelExpr":"datum.value % 2 === 0 ? datum.label : ''","labelAngle":-50,"labelFlush":false,"labelOverlap":false}},
"y":{"field":"v","type":"quantitative","title":"RER","scale":{"domain":[0,0.7,1.1],"range":[146,127,0],"nice":false,"zero":false},"axis":{"values":[0,0.7,0.8,0.9,1.0,1.1],"labelOverlap":false,"labelExpr":"datum.value === 0 ? '0' : format(datum.value, '.1f')"}}},
"layer":[
{"data":{"values":[{"t":5,"v":0,"v2":1.1},{"t":10,"v":0,"v2":1.1},{"t":15,"v":0,"v2":1.1},{"t":20,"v":0,"v2":1.1}]},"mark":{"type":"rule","color":"black","strokeWidth":1.2,"strokeDash":[1.5,2.5]},"encoding":{"y2":{"field":"v2"}}},
{"data":{"values":[{"t":0,"t2":20,"v":1}]},"mark":{"type":"rule","color":"black","strokeWidth":1.2,"strokeDash":[4,3]},"encoding":{"x2":{"field":"t2"}}},
{"data":{"values":[{"t":0,"v":0.35}]},"mark":{"type":"point","shape":"M-0.7,-0.1L0.7,-0.9M-0.7,0.9L0.7,0.1","filled":false,"color":"black","strokeWidth":1.5,"size":90,"opacity":1}},
{"data":{"name":"d"},"transform":[{"fold":["Pre-I","Post-I","Post-V"],"as":["g","v"]}],"mark":{"type":"point","filled":true,"size":30,"opacity":1},
"encoding":{"color":{"field":"g","type":"nominal","title":null,"scale":{"domain":["Pre-I","Post-I","Post-V"],"range":["#0000FF","#FF0000","#00C400"]}},"order":{"field":"g"}}}
]},
{"width":150,"height":146,"title":{"text":"h","dx":-46},
"data":{"values":[{"g":"Pre-I","v":52.2},{"g":"Post-I","v":48.4},{"g":"Post-V","v":55.0}]},
"encoding":{"x":{"field":"g","type":"nominal","title":null,"sort":null,"scale":{"type":"band","domain":["Pre-I","Post-I","Post-V"],"paddingInner":0.37,"paddingOuter":0.34},"axis":{"labelAngle":0}},
"y":{"field":"v","type":"quantitative","title":["Predicted V\u0307O\u2082 \u209a\u2091\u2090\u2096","(mL/kg/min)"],"scale":{"domain":[0,48,56],"range":[146,122,0],"nice":false,"zero":false},"axis":{"values":[0,48,50,52,54,56],"labelOverlap":false}}},
"layer":[
{"mark":{"type":"bar","fill":"white","strokeWidth":2.5},"encoding":{"stroke":{"field":"g","type":"nominal","legend":null,"scale":{"domain":["Pre-I","Post-I","Post-V"],"range":["#0000FF","#FF0000","#00C400"]}}}},
{"mark":{"type":"point","filled":true,"size":40,"opacity":1},"encoding":{"color":{"field":"g","type":"nominal","title":null,"scale":{"domain":["Pre-I","Post-I","Post-V"],"range":["#0000FF","#FF0000","#00C400"]}}}}
]},
{"width":146,"height":146,"title":{"text":"l","dx":-42},
"data":{"name":"l"},"transform":[{"fold":["Pre-I","Post-I","Post-V"],"as":["g","v"]}],
"encoding":{"x":{"field":"c","type":"ordinal","title":null,"scale":{"type":"point","domain":["Rest","60%","80%","+ 1h"],"padding":0.5},"axis":{"labelAngle":0}},
"y":{"field":"v","type":"quantitative","title":"Norepinephrine (ng/ml)","scale":{"domain":[0,0.8],"nice":false},"axis":{"values":[0,0.2,0.4,0.6,0.8],"format":".1f"}},
"color":{"field":"g","type":"nominal","title":null,"scale":{"domain":["Pre-I","Post-I","Post-V"],"range":["#0000FF","#FF0000","#00C400"]}}},
"layer":[
{"mark":{"type":"line","strokeWidth":1,"opacity":0.7},"encoding":{"order":{"field":"i"}}},
{"mark":{"type":"point","filled":true,"size":40,"opacity":1}}
]}
],
"config":{
"view":{"stroke":null},
"font":"Liberation Sans",
"axis":{"grid":false,"domainColor":"black","domainWidth":1.8,"tickColor":"black","tickWidth":1.5,"tickSize":5,"labelFont":"Liberation Sans","labelFontWeight":"bold","labelFontSize":10,"labelColor":"black","titleFont":"Liberation Sans","titleFontWeight":"bold","titleFontSize":11,"titleColor":"black","labelPadding":2,"titlePadding":4,"labelOverlap":false},
"title":{"font":"Liberation Sans","fontSize":21,"fontWeight":"bold","anchor":"start","frame":"group","color":"black","offset":-1},
"legend":{"orient":"none","legendX":675,"legendY":3,"labelFont":"Liberation Sans","labelFontSize":11.5,"labelColor":"black","symbolSize":100,"symbolStrokeWidth":1.2,"rowPadding":8.5,"labelOffset":13}
}
}
